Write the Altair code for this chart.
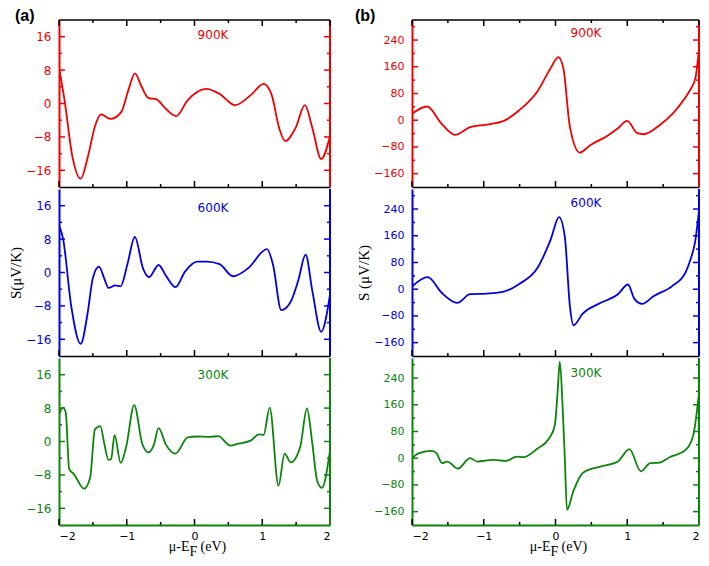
import altair as alt
import pandas as pd

# ---------------- panel (a) ----------------
a900_x = [-2.0, -1.92, -1.8, -1.68, -1.57, -1.47, -1.38, -1.24, -1.08, -0.97, -0.88, -0.78, -0.68, -0.56,
          -0.45, -0.27, -0.1, 0.17, 0.37, 0.6, 0.83, 1.02, 1.14, 1.25, 1.34, 1.49, 1.63, 1.74, 1.87, 2.0]
a900_y = [8.6, 1.0, -12.9, -18.0, -12.5, -5.5, -2.6, -3.7, -2.0, 3.5, 7.2, 4.0, 1.3, 1.0,
          -0.8, -3.0, 0.8, 3.5, 2.3, -0.4, 2.0, 4.7, 2.0, -5.9, -9.0, -5.9, -0.4, -5.9, -13.3, -7.8]

a600_x = [-2.0, -1.94, -1.82, -1.68, -1.58, -1.5, -1.41, -1.33, -1.27, -1.17, -1.09, -0.99, -0.88, -0.76,
          -0.67, -0.53, -0.42, -0.28, -0.14, 0.04, 0.18, 0.37, 0.57, 0.79, 1.07, 1.16, 1.28, 1.42, 1.53,
          1.64, 1.74, 1.87, 2.0]
a600_y = [11.3, 8.1, -8.0, -17.1, -10.0, -1.3, 1.4, -1.5, -3.7, -3.1, -3.3, 2.0, 8.5, 1.0,
          -1.1, 1.8, -0.8, -3.5, 0.2, 2.6, 2.6, 2.0, -0.9, 1.0, 5.6, 1.8, -9.0, -7.0, -2.0,
          4.3, -4.5, -14.2, -5.3]

a300_x = [-2.0, -1.94, -1.9, -1.85, -1.78, -1.63, -1.54, -1.47, -1.39, -1.33, -1.27, -1.23, -1.18, -1.09,
          -1.01, -0.89, -0.77, -0.68, -0.6, -0.53, -0.42, -0.28, -0.1, 0.04, 0.23, 0.35, 0.53, 0.65,
          0.83, 0.95, 1.02, 1.11, 1.24, 1.33, 1.42, 1.56, 1.66, 1.74, 1.81, 1.88, 2.0]
a300_y = [6.5, 8.1, 6.9, -6.6, -7.8, -11.3, -8.6, 2.9, 3.7, -0.6, -4.4, -4.2, 1.6, -5.1,
          -1.4, 8.7, -0.6, -2.6, -0.8, 3.2, -0.8, -2.9, 1.0, 1.2, 1.1, 1.3, -1.0, -0.5,
          0.2, 1.7, 1.6, 8.1, -10.6, -2.9, -5.0, -1.3, 7.9, -0.6, -9.4, -11.1, -2.2]

# ---------------- panel (b) ----------------
b900_x = [-2.0, -1.79, -1.59, -1.4, -1.19, -0.96, -0.72, -0.51, -0.25, -0.07, 0.04, 0.11, 0.2, 0.34,
          0.47, 0.74, 0.87, 1.0, 1.14, 1.23, 1.45, 1.63, 1.81, 1.88, 1.95, 2.0]
b900_y = [19, 41, -10, -44, -21, -13, -2, 29, 87, 155, 189, 155, -19, -97,
          -77, -44, -24, -2, -39, -42, -15, 19, 68, 92, 126, 213]

b600_x = [-2.0, -1.78, -1.59, -1.37, -1.19, -0.96, -0.72, -0.51, -0.25, -0.07, 0.05, 0.13, 0.2, 0.25,
          0.38, 0.6, 0.87, 1.01, 1.1, 1.21, 1.36, 1.63, 1.81, 1.88, 1.95, 2.0]
b600_y = [8, 36, -10, -41, -15, -13, -7, 15, 64, 147, 216, 157, -49, -108,
          -73, -44, -15, 14, -29, -44, -22, 10, 49, 88, 147, 235]

b300_x = [-2.0, -1.9, -1.72, -1.66, -1.58, -1.51, -1.36, -1.19, -1.09, -0.87, -0.69, -0.54, -0.45, -0.25,
          -0.09, -0.01, 0.03, 0.06, 0.1, 0.13, 0.16, 0.25, 0.38, 0.65, 0.87, 1.03, 1.19, 1.32, 1.45,
          1.59, 1.81, 1.92, 2.0]
b300_y = [0, 15, 22, 15, -15, -10, -31, 0, -10, -5, -8, 5, 3, 29,
          59, 98, 200, 289, 150, 0, -155, -98, -44, -24, -10, 27, -39, -15, -13,
          3, 24, 69, 196]

x_major = [-2, -1, 0, 1, 2]
x_minor = [-1.5, -0.5, 0.5, 1.5]
a_major = [-16, -8, 0, 8, 16]
a_minor = [-12, -4, 4, 12]
b_major = [-160, -80, 0, 80, 160, 240]
b_minor = [-120, -40, 40, 120, 200, 280]

RED, BLUE, GREEN = "#f00000", "#0000e0", "#0a850a"
SANS = "DejaVu Sans"
SERIF = "Liberation Serif"
H = 167


def edge(x0, x1, y0, y1, color, width):
    # frame edge drawn as a rule (top/right sides of each panel)
    return alt.Chart(pd.DataFrame({"e": [0]})).mark_rule(color=color, strokeWidth=width).encode(
        x=alt.value(x0), x2=alt.value(x1), y=alt.value(y0), y2=alt.value(y1))


def panel(xs, ys, color, temp, tpos, ydom, ymaj, ymin, w, lab_size,
          ytitle="", top=False, bottom=False, tag=None):
    df = pd.DataFrame({"x": xs, "y": ys})
    xsc = alt.Scale(domain=[-2, 2], nice=False, zero=False)
    ysc = alt.Scale(domain=ydom, nice=False, zero=False)

    if bottom:
        xaxis = alt.Axis(values=x_major, format="d", ticks=False, tickSize=0, grid=False, title="",
                         domainColor=color, domainWidth=2, labelColor="black", labelFont=SANS,
                         labelFontSize=11, labelPadding=5, minExtent=0, titlePadding=0)
    else:
        xaxis = alt.Axis(labels=False, ticks=False, tickSize=0, grid=False, title="",
                         domainColor="black", domainWidth=1.5, minExtent=0, titlePadding=0)
    yaxis = alt.Axis(values=ymaj, ticks=False, tickSize=0, grid=False, domainColor=color,
                     domainWidth=2, labelColor=color, labelFont=SANS, labelFontSize=lab_size,
                     labelPadding=8, title=ytitle, titleFont=SERIF, titleFontSize=15,
                     titleFontWeight="normal", titleColor="black", titlePadding=2, minExtent=0)

    line = alt.Chart(df).mark_line(color=color, strokeWidth=1.8, interpolate="monotone",
                                   clip=True).encode(
        x=alt.X("x:Q", scale=xsc, axis=xaxis),
        y=alt.Y("y:Q", scale=ysc, axis=yaxis))

    def yt(vals, x0, x1):
        return alt.Chart(pd.DataFrame({"v": vals})).mark_rule(color=color, strokeWidth=1.5).encode(
            y=alt.Y("v:Q", scale=ysc, axis=None), x=alt.value(x0), x2=alt.value(x1))

    def xt(vals, y0, y1):
        return alt.Chart(pd.DataFrame({"v": vals})).mark_rule(color="black", strokeWidth=1.5).encode(
            x=alt.X("v:Q", scale=xsc, axis=None), y=alt.value(y0), y2=alt.value(y1))

    layers = [line,
              yt(ymaj, 0, 6), yt(ymin, 0, 3),
              yt(ymaj, w - 6, w), yt(ymin, w - 3, w),
              xt(x_major, H - 6, H), xt(x_minor, H - 3, H),
              edge(w, w, 0, H, color, 2)]
    if top:
        layers += [xt(x_major, 0, 6), xt(x_minor, 0, 3), edge(0, w, 0, 0, "black", 1.5)]

    layers.append(alt.Chart(pd.DataFrame({"t": [temp]})).mark_text(
        color=color, font=SANS, fontSize=12, baseline="middle").encode(
        x=alt.value(tpos[0]), y=alt.value(tpos[1]), text="t:N"))

    if tag is not None:
        layers.append(alt.Chart(pd.DataFrame({"t": [tag[0]]})).mark_text(
            font="Liberation Sans", fontWeight="bold", fontSize=16, align="left",
            baseline="middle").encode(x=alt.value(tag[1]), y=alt.value(-4), text="t:N"))

    if bottom:
        c = w / 2
        parts = [("μ-E", c - 5, H + 22, "right"),
                 ("F", c - 5, H + 27, "left"),
                 ("(eV)", c + 6, H + 22, "left")]
        for txt, px, py, al in parts:
            layers.append(alt.Chart(pd.DataFrame({"t": [txt]})).mark_text(
                font=SERIF, fontSize=14, align=al, baseline="middle", color="black").encode(
                x=alt.value(px), y=alt.value(py), text="t:N"))

    return alt.layer(*layers).resolve_axis(x="independent", y="independent").properties(
        width=w, height=H)


WA, WB = 271, 287
col_a = alt.vconcat(
    panel(a900_x, a900_y, RED, "900K", (154, 15), [-20, 20], a_major, a_minor, WA, 12,
          top=True, tag=("(a)", -44)),
    panel(a600_x, a600_y, BLUE, "600K", (154, 19), [-20, 20], a_major, a_minor, WA, 12,
          ytitle="S(μV/K)"),
    panel(a300_x, a300_y, GREEN, "300K", (154, 17), [-20, 20], a_major, a_minor, WA, 12,
          bottom=True),
    spacing=0)

col_b = alt.vconcat(
    panel(b900_x, b900_y, RED, "900K", (174, 13), [-200, 300], b_major, b_minor, WB, 11,
          top=True, tag=("(b)", -57)),
    panel(b600_x, b600_y, BLUE, "600K", (174, 14), [-200, 300], b_major, b_minor, WB, 11,
          ytitle="S (μV/K)"),
    panel(b300_x, b300_y, GREEN, "300K", (174, 15), [-200, 300], b_major, b_minor, WB, 11,
          bottom=True),
    spacing=0)

chart = (alt.hconcat(col_a, col_b, spacing=24)
         .properties(padding=0)
         .configure_axis(minExtent=0)
         .configure_view(stroke=None))

chart.save("out.html", embed_options={"renderer": "svg", "actions": False})
